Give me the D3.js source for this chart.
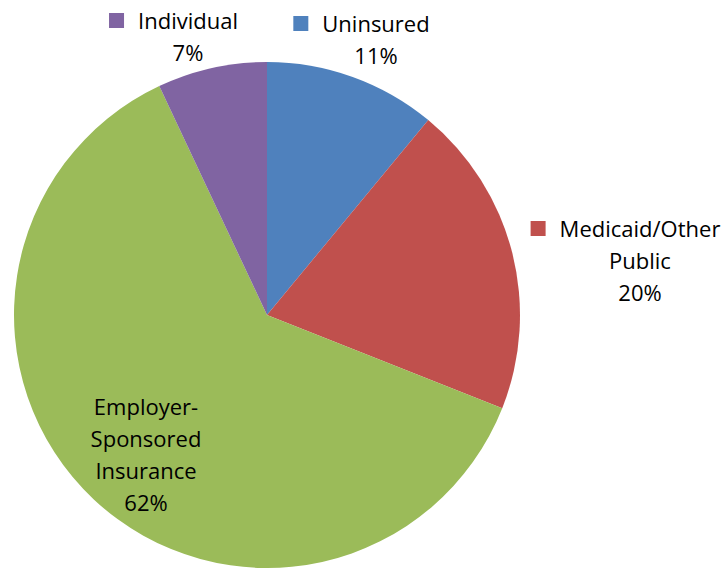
<!DOCTYPE html>
<html>
<head>
<meta charset="utf-8">
<script src="https://cdn.jsdelivr.net/npm/d3@7"></script>
<style>
  body { margin: 0; background: #fff; }
  text { font-family: "Open Sans", "Liberation Sans", sans-serif; fill: #000; }
</style>
</head>
<body>
<div class="canvas"></div>
<script>
// chart data
const categories = ['Uninsured', 'Medicaid/Other Public', 'Employer-Sponsored Insurance', 'Individual'];
const shares = [11, 20, 62, 7];
const colors = ['#4F81BD', '#C0504D', '#9BBB59', '#8064A2'];

// label lines per slice
const labelLines = [
  ['Uninsured', '11%'],
  ['Medicaid/Other', 'Public', '20%'],
  ['Employer-', 'Sponsored', 'Insurance', '62%'],
  ['Individual', '7%']
];
const labelPos = [
  { x: 376, y: 32, key: true },
  { x: 640, y: 237, key: true },
  { x: 146, y: 415, key: false },
  { x: 188, y: 29, key: true }
];

const width = 724, height = 568;
const cx = 267, cy = 315, radius = 253;
const fontSize = 22, lineH = 32;

const svg = d3.select('.canvas')
  .append('svg')
  .attr('width', width)
  .attr('height', height);

const data = categories.map((c, i) => ({ name: c, value: shares[i], i }));

const pie = d3.pie().sort(null).value(d => d.value);
const arc = d3.arc().innerRadius(0).outerRadius(radius);

const graph = svg.append('g')
  .attr('transform', `translate(${cx}, ${cy})`);

graph.selectAll('path')
  .data(pie(data))
  .join('path')
  .attr('d', arc)
  .attr('fill', d => colors[d.data.i]);

// labels
const labels = svg.append('g');
data.forEach((d, i) => {
  const p = labelPos[i];
  const g = labels.append('g');
  labelLines[i].forEach((line, j) => {
    g.append('text')
      .attr('x', p.x)
      .attr('y', p.y + j * lineH)
      .attr('text-anchor', 'middle')
      .attr('font-size', fontSize)
      .text(line);
  });
  if (p.key) {
    // legend key before first line
    const w = g.select('text').node().getComputedTextLength();
    const left = p.x - w / 2;
    g.append('rect')
      .attr('x', left - 29)
      .attr('y', p.y - 16)
      .attr('width', 15)
      .attr('height', 15)
      .attr('fill', colors[i]);
  }
});
</script>
</body>
</html>
